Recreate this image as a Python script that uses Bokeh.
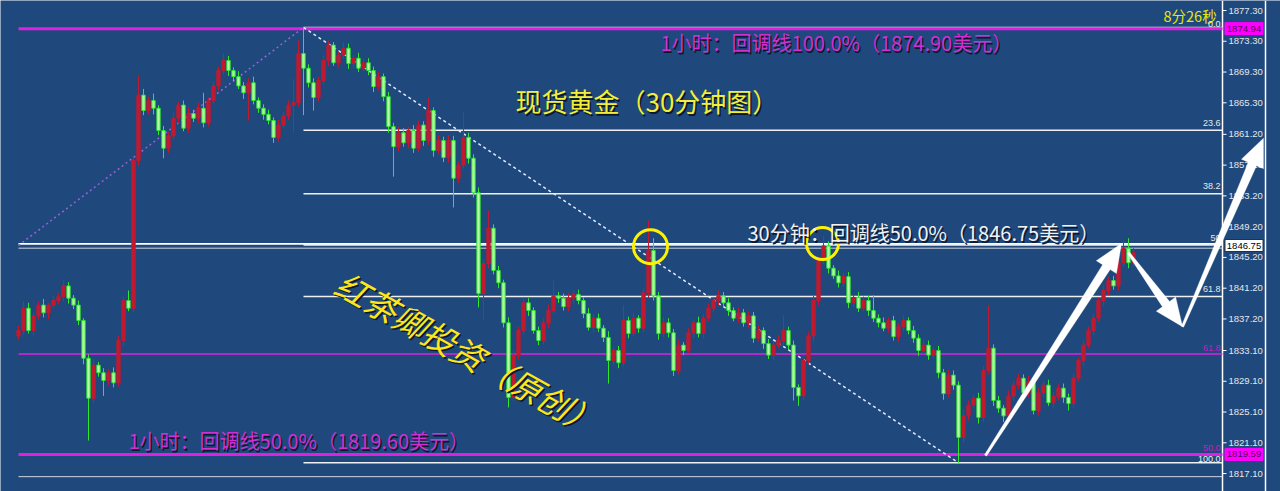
from bokeh.plotting import figure
from bokeh.models import Range1d, PolyAnnotation, ColumnDataSource
from bokeh.core.properties import value
from bokeh.embed import file_html
from bokeh.resources import INLINE
import math

# ---------------- data (spot gold, 30-minute candles) ----------------
first_open = 1835.0
closes = [
    1835.7, 1838.6, 1835.7, 1837.6, 1839.0, 1838.0, 1839.0, 1839.6, 1840.1, 1841.5,
    1839.9, 1839.0, 1837.0, 1832.1, 1826.9, 1831.2, 1830.2, 1829.2, 1830.2, 1828.9,
    1834.4, 1839.6, 1838.6, 1857.8, 1866.3, 1864.3, 1865.6, 1864.6, 1861.7, 1859.4,
    1861.0, 1863.3, 1865.0, 1862.0, 1863.9, 1863.3, 1864.6, 1862.7, 1865.6, 1867.5,
    1869.5, 1870.8, 1869.5, 1868.7, 1867.5, 1866.6, 1867.9, 1865.6, 1864.6, 1863.8,
    1863.0, 1860.8, 1862.4, 1863.6, 1865.0, 1865.3, 1871.7, 1869.8, 1867.9, 1866.0,
    1868.2, 1870.8, 1872.8, 1870.5, 1871.5, 1872.4, 1870.4, 1871.1, 1869.8, 1870.5,
    1869.5, 1867.4, 1868.7, 1866.1, 1862.2, 1859.6, 1861.4, 1860.1, 1861.7, 1859.4,
    1862.4, 1860.4, 1864.3, 1859.1, 1860.4, 1858.2, 1860.4, 1855.5, 1857.2, 1860.8,
    1858.1, 1853.6, 1840.5, 1844.4, 1849.0, 1843.5, 1841.9, 1836.7, 1827.0, 1832.5,
    1835.7, 1839.3, 1838.3, 1835.7, 1834.4, 1836.7, 1838.3, 1840.2, 1839.9, 1838.8,
    1839.9, 1840.4, 1839.6, 1837.9, 1836.1, 1837.3, 1836.0, 1834.8, 1831.8, 1833.1,
    1831.5, 1837.0, 1835.3, 1837.3, 1836.0, 1840.6, 1846.1, 1840.2, 1835.3, 1836.7,
    1835.4, 1830.5, 1833.8, 1833.1, 1835.4, 1836.7, 1835.3, 1837.3, 1838.6, 1839.6,
    1840.2, 1839.3, 1838.3, 1837.3, 1838.0, 1836.7, 1837.6, 1834.7, 1835.7, 1834.0,
    1832.5, 1833.8, 1834.4, 1835.7, 1833.8, 1828.3, 1827.2, 1831.8, 1835.0, 1839.6,
    1844.8, 1846.7, 1843.8, 1842.8, 1841.9, 1842.7, 1839.3, 1840.0, 1838.6, 1839.6,
    1838.3, 1837.3, 1836.7, 1836.0, 1837.0, 1834.9, 1836.2, 1837.0, 1835.7, 1834.7,
    1833.1, 1833.8, 1832.5, 1833.1, 1830.2, 1827.5, 1829.9, 1828.6, 1821.8, 1824.6,
    1826.0, 1826.9, 1824.4, 1830.5, 1833.4, 1826.6, 1825.6, 1824.6, 1827.2, 1828.6,
    1829.5, 1827.6, 1829.1, 1825.3, 1827.6, 1828.6, 1826.3, 1827.1, 1828.2, 1827.0,
    1826.2, 1829.5, 1831.8, 1833.8, 1835.7, 1837.3, 1839.6, 1840.9, 1842.2, 1841.5,
    1844.5, 1846.4, 1844.5, 1845.8]

upper_wick = [
    0.6, 0.9, 0.7, 0.4, 0.5, 0.8, 0.3, 0.6, 0.5, 0.7,
    0.5, 0.4, 0.6, 0.3, 0.5, 0.8, 0.4, 0.6, 0.5, 0.7,
    0.6, 0.5, 1.3, 0.4, 2.6, 0.8, 0.5, 0.9, 0.4, 0.6,
    0.5, 0.7, 0.4, 0.6, 0.8, 0.5, 0.7, 2.0, 0.4, 0.6,
    0.5, 0.9, 0.6, 0.4, 0.7, 0.5, 0.6, 0.8, 0.4, 0.5,
    0.6, 0.4, 0.7, 0.5, 0.6, 3.1, 1.7, 3.4, 0.5, 0.6,
    0.5, 0.7, 0.6, 0.4, 0.5, 0.8, 0.6, 0.4, 0.7, 0.5,
    0.6, 0.5, 0.7, 0.4, 0.6, 0.5, 0.8, 0.6, 0.5, 0.7,
    0.6, 0.5, 1.7, 0.4, 0.6, 0.5, 0.7, 0.6, 0.5, 3.3,
    0.6, 0.5, 0.7, 0.6, 2.3, 0.5, 0.6, 0.4, 0.7, 0.6,
    0.5, 0.7, 0.6, 0.4, 0.5, 0.6, 0.8, 2.0, 0.5, 0.6,
    0.7, 0.5, 0.6, 0.4, 0.7, 0.5, 0.6, 0.4, 0.8, 0.5,
    0.6, 2.0, 0.5, 0.7, 0.4, 0.6, 3.9, 1.6, 0.5, 0.7,
    0.6, 0.5, 0.7, 0.4, 0.6, 0.5, 0.8, 0.5, 0.6, 0.4,
    0.7, 0.5, 0.6, 0.4, 0.7, 0.5, 0.6, 0.5, 0.7, 0.4,
    0.6, 0.5, 0.7, 2.0, 0.5, 0.6, 0.4, 0.7, 0.5, 0.6,
    0.5, 1.3, 0.6, 0.4, 0.7, 0.5, 0.6, 0.4, 0.7, 0.5,
    0.6, 2.0, 0.5, 0.7, 0.4, 0.6, 0.5, 0.7, 0.4, 0.6,
    0.5, 0.7, 0.6, 0.4, 0.6, 0.5, 0.7, 0.6, 0.5, 0.8,
    0.6, 0.5, 0.7, 0.6, 5.6, 0.5, 0.6, 0.4, 0.7, 0.5,
    0.6, 0.5, 0.7, 0.4, 0.6, 0.5, 0.7, 0.6, 0.5, 0.6,
    0.5, 0.6, 0.4, 0.7, 0.5, 0.6, 0.4, 0.7, 0.5, 0.6,
    0.5, 1.0, 1.3, 0.6]

lower_wick = [
    0.5, 0.6, 0.4, 0.7, 0.5, 0.6, 0.8, 0.4, 0.5, 0.6,
    0.7, 0.5, 0.6, 0.8, 5.5, 0.6, 0.5, 2.0, 0.7, 0.6,
    0.5, 0.6, 0.4, 0.5, 0.7, 0.6, 0.5, 0.8, 0.6, 1.3,
    0.6, 0.5, 0.7, 0.4, 0.6, 0.5, 0.7, 0.6, 0.5, 0.4,
    0.6, 0.5, 0.7, 0.6, 0.4, 0.8, 3.6, 0.5, 0.6, 0.7,
    0.5, 0.7, 0.6, 0.4, 0.5, 3.6, 0.5, 6.1, 0.6, 1.7,
    0.6, 0.5, 0.7, 0.4, 0.6, 0.5, 0.7, 0.6, 0.5, 0.4,
    0.6, 0.7, 0.5, 0.6, 0.8, 3.9, 0.6, 0.5, 0.7, 0.6,
    0.5, 0.7, 0.6, 0.8, 0.5, 0.6, 0.7, 3.8, 0.6, 0.5,
    0.7, 0.6, 1.8, 3.5, 0.6, 0.5, 0.7, 0.6, 1.3, 0.5,
    0.6, 0.5, 0.7, 0.4, 0.6, 0.5, 0.7, 0.4, 0.6, 0.5,
    0.6, 0.7, 0.5, 0.6, 0.4, 0.7, 0.5, 0.6, 3.0, 0.5,
    0.7, 0.5, 0.6, 0.4, 0.6, 0.5, 0.7, 0.6, 0.8, 0.5,
    0.6, 0.7, 0.5, 0.6, 0.4, 0.7, 0.5, 0.6, 0.4, 0.5,
    0.6, 0.5, 0.7, 0.4, 0.6, 0.5, 0.7, 0.6, 0.5, 0.7,
    0.5, 0.6, 0.4, 0.7, 0.5, 1.7, 1.3, 0.6, 0.5, 0.7,
    0.6, 0.5, 0.7, 0.4, 0.6, 0.5, 0.7, 0.6, 0.5, 0.4,
    0.7, 0.5, 0.6, 0.4, 0.6, 0.5, 0.7, 0.6, 0.5, 0.6,
    0.7, 0.5, 0.6, 0.4, 0.7, 0.8, 0.5, 0.6, 3.3, 0.7,
    0.6, 0.5, 0.8, 0.6, 0.5, 0.7, 0.6, 0.8, 0.5, 0.6,
    0.5, 0.7, 0.6, 0.5, 0.7, 0.6, 0.4, 0.6, 0.5, 0.7,
    0.9, 0.6, 0.5, 0.7, 0.4, 0.6, 0.5, 0.7, 0.6, 0.5,
    0.6, 0.5, 0.7, 0.5]

axis_ticks = [1877.30, 1873.30, 1869.30, 1865.30, 1861.20, 1857.20, 1853.20, 1849.20,
              1845.20, 1841.20, 1837.20, 1833.10, 1829.10, 1825.10, 1821.10, 1817.10]

fib30_levels = [0.0, 23.6, 38.2, 50.0, 61.8, 100.0]      # 30-min retracement (white)
h1_100 = 1874.94                                           # 1-hour retracement 100%
h1_50 = 1819.59                                            # 1-hour retracement 50%
h1_extra = [61.8]
price_line = 1846.75
extra_lines = [1846.4, 1816.7]

title_main = "现货黄金（30分钟图）"
note_30 = "30分钟：回调线50.0%（1846.75美元）"
note_h1_top = "1小时：回调线100.0%（1874.90美元）"
note_h1_bot = "1小时：回调线50.0%（1819.60美元）"
signature = "红茶卿投资（原创）"
timer = "8分26秒"

# forecast arrows (start bar, start price, end bar, end price)
arrows = [(193.4, 1819.45, 220.6, 1847.0),
          (222.0, 1845.8, 232.8, 1836.2),
          (232.8, 1836.2, 249.0, 1860.7)]

# ---------------- derived OHLC ----------------
n = len(closes)
opens = [first_open] + closes[:-1]
highs = [max(o, c) + u for o, c, u in zip(opens, closes, upper_wick)]
lows = [min(o, c) - l for o, c, l in zip(opens, closes, lower_wick)]
xs = list(range(n))

def side(cond):
    d = dict(x=[], top=[], bot=[], hi=[], lo=[])
    for i in range(n):
        if cond(opens[i], closes[i]):
            d["x"].append(xs[i])
            t = max(opens[i], closes[i]); b = min(opens[i], closes[i])
            if t - b < 0.08:
                t += 0.05; b -= 0.05
            d["top"].append(t); d["bot"].append(b)
            d["hi"].append(highs[i]); d["lo"].append(lows[i])
    return ColumnDataSource(d)

src_up = side(lambda o, c: c >= o)
src_dn = side(lambda o, c: c < o)

BG = "#1F497D"
RED = "#C01A30"
GREEN_LINE = "#2EE62E"
GREEN_FILL = "#B8FFA8"
MAGENTA = "#E020E0"
YELLOW = "#F2EE3A"
CJK = "Noto Sans CJK SC"

FRAME_W, FRAME_H = 1280, 491
x0r, x1r = -3.6, 252.4
y0r, y1r = 1814.77, 1878.6
p = figure(width=FRAME_W, height=FRAME_H,
           x_range=Range1d(x0r, x1r), y_range=Range1d(y0r, y1r),
           output_backend="svg", toolbar_location=None,
           x_axis_location=None, y_axis_location=None,
           min_border_left=0, min_border_top=0, min_border_bottom=0, min_border_right=0,
           background_fill_color=BG, border_fill_color=BG, outline_line_color=None)
p.xgrid.visible = False
p.ygrid.visible = False

# price scale at the right (MT4 style)
x_end = 240.8
x_edge = 249.4
p.segment(x0=[x_end, x_edge], x1=[x_end, x_edge], y0=[y0r, y0r], y1=[y1r, y1r],
          line_color="white", line_width=1.5)
p.segment(x0=[x_end] * len(axis_ticks), x1=[x_end + 0.8] * len(axis_ticks),
          y0=axis_ticks, y1=axis_ticks, line_color="white", line_width=1)
p.text(x=[x_end + 1.2] * len(axis_ticks), y=axis_ticks,
       text=["%.2f" % t for t in axis_ticks], text_font=value("Liberation Sans"),
       text_font_size="9.5px", text_color="#E6E6E6", text_baseline="middle")

# ---------------- horizontal levels ----------------
fib_hi = max(highs); fib_lo = min(lows)
hi_i = highs.index(fib_hi); lo_i = lows.index(fib_lo)
fib_prices = [fib_hi - lv / 100.0 * (fib_hi - fib_lo) for lv in fib30_levels]
p.segment(x0=[hi_i] * len(fib_prices), x1=[x_end] * len(fib_prices),
          y0=fib_prices, y1=fib_prices, line_color="#F0F0F0", line_width=1.5)

p.segment(x0=[0, 0], x1=[x_end, x_end], y0=[h1_100, h1_50], y1=[h1_100, h1_50],
          line_color=MAGENTA, line_width=3)
unit = (h1_100 - h1_50) / 50.0
h1_zero = h1_100 - 100 * unit
h1_extra_prices = [h1_zero + lv * unit for lv in h1_extra]
p.segment(x0=[0] * len(h1_extra_prices), x1=[x_end] * len(h1_extra_prices),
          y0=h1_extra_prices, y1=h1_extra_prices, line_color=MAGENTA, line_width=1.5)
p.segment(x0=[0], x1=[x_end], y0=[price_line + 0.2], y1=[price_line + 0.2],
          line_color="white", line_width=1.8)
p.segment(x0=[0, 0], x1=[x_end, x_end], y0=extra_lines, y1=extra_lines,
          line_color="#D0D4E0", line_width=1)

# diagonal trend lines
p.line([0, hi_i], [price_line, fib_hi], line_color="#9C60D8", line_width=1.5, line_dash="2 3")
p.line([hi_i, lo_i], [fib_hi, fib_lo], line_color="#E0EAFF", line_width=1.5, line_dash="3 3")

# ---------------- candles ----------------
p.segment(x0="x", y0="lo", x1="x", y1="hi", source=src_up, line_color=RED, line_width=1)
p.vbar(x="x", width=0.66, top="top", bottom="bot", source=src_up,
       fill_color=RED, line_color=RED, line_width=1)
p.segment(x0="x", y0="lo", x1="x", y1="hi", source=src_dn, line_color=GREEN_LINE, line_width=1)
p.vbar(x="x", width=0.66, top="top", bottom="bot", source=src_dn,
       fill_color=GREEN_FILL, line_color=GREEN_LINE, line_width=1)

# yellow circles
p.scatter(x=[126.4, 160.8], y=[1846.6, 1847.0], size=[34, 32], marker="circle",
          fill_color=None, line_color="#FFF200", line_width=3)

# ---------------- texts ----------------
def shadow_text(x, y, t, size, color, align="left", angle=0.0, style="normal"):
    p.text(x=[x], y=[y], text=[t], text_font=value(CJK), text_font_size=size,
           text_color="#0B1830", text_align=align, text_baseline="middle",
           angle=angle, x_offset=1.5, y_offset=1.5, text_font_style=style)
    p.text(x=[x], y=[y], text=[t], text_font=value(CJK), text_font_size=size,
           text_color=color, text_align=align, text_baseline="middle",
           angle=angle, text_font_style=style)

shadow_text(99.4, 1865.6, title_main, "26px", YELLOW)
shadow_text(145.8, 1848.4, note_30, "20px", "#F2F2F2")
shadow_text(128.4, 1873.1, note_h1_top, "20px", "#D030D0")
shadow_text(22.0, 1821.4, note_h1_bot, "20px", "#D030D0")
shadow_text(90.0, 1832.8, signature, "33px", "#FFE619", align="center", angle=-0.51, style="italic")
p.text(x=[229], y=[1876.7], text=[timer], text_font=value(CJK), text_font_size="14.5px",
       text_color="#E8E800", text_baseline="middle")

lab_y = [fib_prices[1], fib_prices[2], fib_prices[3], fib_prices[4]]
p.text(x=[x_end - 0.4] * 4, y=[v + 0.6 for v in lab_y], text=["23.6", "38.2", "50", "61.8"],
       text_font=value("Liberation Sans"), text_font_size="9px", text_color="#E8E8E8",
       text_align="right", text_baseline="bottom")
p.text(x=[x_end - 0.4] * 2, y=[h1_extra_prices[0] + 0.4, h1_50 + 0.4], text=["61.8", "50.0"],
       text_font=value("Liberation Sans"), text_font_size="9px", text_color="#C020C0",
       text_align="right", text_baseline="bottom")
p.text(x=[x_end - 0.4] * 2, y=[fib_prices[5] + 0.1, fib_prices[0] + 0.1], text=["100.0", "0.0"],
       text_font=value("Liberation Sans"), text_font_size="9px", text_color="#F0F0F0",
       text_align="right", text_baseline="bottom")

# price boxes on the scale
box_prices = [h1_100, h1_50, price_line]
box_fill = ["#FF00FF", "#FF00FF", "#FFFFFF"]
box_text = ["#5A005A", "#5A005A", "#000000"]
box_line = ["#FF00FF", "#FF00FF", "#303030"]
p.rect(x=[x_end + 4.3] * 3, y=box_prices, width=38, height=12,
       width_units="screen", height_units="screen",
       fill_color=box_fill, line_color=box_line, line_width=1)
p.text(x=[x_end + 4.3] * 3, y=box_prices, text=["%.2f" % v for v in box_prices],
       text_font=value("Liberation Sans"), text_font_size="9.5px", text_color=box_text,
       text_align="center", text_baseline="middle")

# ---------------- arrows (tapered polygons) ----------------
sx = FRAME_W / (x1r - x0r)
sy = FRAME_H / (y1r - y0r)
for xa, ya, xb, yb in arrows:
    ax_, ay_ = xa * sx, ya * sy
    bx_, by_ = xb * sx, yb * sy
    dx, dy = bx_ - ax_, by_ - ay_
    L = math.hypot(dx, dy)
    ux, uy = dx / L, dy / L
    vx, vy = -uy, ux
    head_len, head_w, w0, w1 = 28.0, 12.0, 1.2, 4.5
    cx, cy = bx_ - ux * head_len, by_ - uy * head_len
    pts = [(ax_ - vx * w0, ay_ - vy * w0), (cx - vx * w1, cy - vy * w1),
           (cx - vx * head_w, cy - vy * head_w), (bx_, by_),
           (cx + vx * head_w, cy + vy * head_w), (cx + vx * w1, cy + vy * w1),
           (ax_ + vx * w0, ay_ + vy * w0)]
    p.add_layout(PolyAnnotation(xs=[q[0] / sx for q in pts], ys=[q[1] / sy for q in pts],
                                fill_color="white", fill_alpha=1.0,
                                line_color="white", line_width=1))

open("out.html", "w").write(file_html(p, INLINE))
